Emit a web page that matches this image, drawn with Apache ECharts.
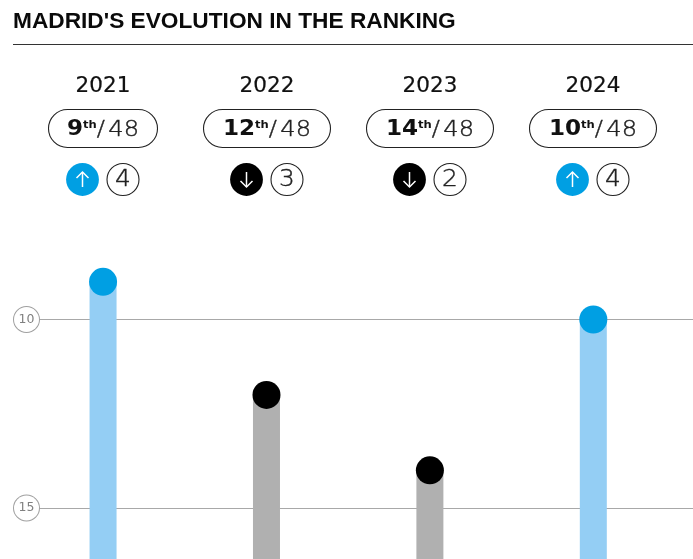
<!DOCTYPE html>
<html>
<head>
<meta charset="utf-8">
<title>Madrid ranking</title>
<script src="https://cdn.jsdelivr.net/npm/echarts@6/dist/echarts.min.js"></script>
<style>
  html, body { margin: 0; padding: 0; background: #fff; }
  #chart { width: 693px; height: 559px; }
</style>
</head>
<body>
<div id="chart"></div>
<script>
  // data
  const years = [2021, 2022, 2023, 2024];
  const ranks = [9, 12, 14, 10];
  const changes = [4, 3, 2, 4];
  const directions = ["up", "down", "down", "up"];
  const totalCities = 48;
  const titleText = "MADRID'S EVOLUTION IN THE RANKING";

  const BLUE = "#009fe3";
  const LIGHT_BLUE = "#94cef4";
  const GREY_BAR = "#b0b0b0";
  const NUM_FONT = "DejaVu Sans";
  const pillWidths = [110, 128, 128, 128];

  const chart = echarts.init(document.getElementById("chart"), null, { renderer: "canvas" });

  const points = years.map((y, i) => [y, ranks[i], directions[i]]);

  chart.setOption({
    animation: false,
    title: {
      text: titleText,
      left: 13,
      top: 10,
      padding: 0,
      textStyle: { fontFamily: "Liberation Sans", fontSize: 22.7, fontWeight: "bold", color: "#0a0a0a" }
    },
    grid: { left: 39, right: 0, top: 131, bottom: 0 },
    xAxis: {
      type: "value",
      min: 2020.608,
      max: 2024.61,
      show: false
    },
    yAxis: {
      type: "value",
      inverse: true,
      min: 5,
      max: 16.353,
      interval: 5,
      axisLine: { show: false },
      axisTick: { show: false },
      splitLine: { show: true, showMinLine: false, showMaxLine: false, lineStyle: { color: "#a8a8a8", width: 1 } },
      axisLabel: {
        showMinLabel: false,
        showMaxLabel: false,
        margin: 0,
        formatter: "{c|{value}}",
        rich: {
          c: {
            width: 25,
            height: 25,
            lineHeight: 25,
            align: "center",
            borderColor: "#a0a0a0",
            borderWidth: 1,
            borderRadius: 13,
            backgroundColor: "#fff",
            fontFamily: NUM_FONT,
            fontSize: 12.5,
            color: "#808080"
          }
        }
      }
    },
    series: [
      {
        // stems go from the rank down to the bottom of the axis
        type: "custom",
        z: 3,
        clip: true,
        encode: { x: 0, y: 1 },
        data: points,
        renderItem: (params, api) => {
          const top = api.coord([api.value(0), api.value(1)]);
          const bottom = api.coord([api.value(0), 16.353]);
          return {
            type: "rect",
            shape: { x: top[0] - 13.5, y: top[1], width: 27, height: bottom[1] - top[1] },
            style: { fill: directions[params.dataIndex] === "up" ? LIGHT_BLUE : GREY_BAR }
          };
        }
      },
      {
        type: "scatter",
        z: 4,
        symbol: "circle",
        symbolSize: 28,
        data: points.map(p => ({
          value: [p[0], p[1]],
          itemStyle: { color: p[2] === "up" ? BLUE : "#000", opacity: 1 }
        }))
      }
    ]
  });

  // header cells sit above each stem, so take x from the axis
  const headers = [];
  years.forEach((year, i) => {
    const cx = Math.round(chart.convertToPixel({ xAxisIndex: 0 }, year) + 0.1);
    const up = directions[i] === "up";
    const w = pillWidths[i];
    const ax = cx - 20;
    const ay = 180;
    headers.push(
      {
        type: "text",
        x: cx, y: 87,
        scaleX: 1.05,
        style: { text: String(year), align: "center", verticalAlign: "middle", fontFamily: NUM_FONT, fontSize: 20.5, fill: "#111", stroke: "#111", lineWidth: 0.2 }
      },
      {
        type: "rect",
        shape: { x: cx - w / 2 + 0.5, y: 109.5, width: w - 1, height: 38, r: 19 },
        style: { fill: "#fff", stroke: "#222", lineWidth: 1.1 }
      },
      {
        type: "text",
        x: cx, y: 130,
        scaleX: 1.1,
        style: {
          text: "{b|" + ranks[i] + "}{s|th}{d|/}{l|" + totalCities + "}",
          align: "center",
          verticalAlign: "middle",
          rich: {
            b: { fontFamily: NUM_FONT, fontWeight: "bold", fontSize: 21, fill: "#111" },
            s: { fontFamily: NUM_FONT, fontWeight: "bold", fontSize: 10.5, fill: "#111", padding: [0, 0, 10, 0] },
            d: { fontFamily: NUM_FONT, fontWeight: 200, fontSize: 22, fill: "#222", stroke: "#222", lineWidth: 0.4 },
            l: { fontFamily: NUM_FONT, fontWeight: 200, fontSize: 22, fill: "#222", stroke: "#222", lineWidth: 0.4, padding: [0, 0, 0, 3] }
          }
        }
      },
      { type: "circle", shape: { cx: ax - 0.5, cy: ay - 0.5, r: 16.4 }, style: { fill: up ? BLUE : "#000" } },
      {
        type: "polyline",
        shape: { points: up ? [[ax - 0.5, ay + 7], [ax - 0.5, ay - 8]] : [[ax - 0.5, ay - 8], [ax - 0.5, ay + 7]] },
        style: { stroke: "#fff", lineWidth: 1.5, fill: null }
      },
      {
        type: "polyline",
        shape: {
          points: up
            ? [[ax - 6.5, ay - 2], [ax - 0.5, ay - 8], [ax + 5.5, ay - 2]]
            : [[ax - 6.5, ay + 1], [ax - 0.5, ay + 7], [ax + 5.5, ay + 1]]
        },
        style: { stroke: "#fff", lineWidth: 1.5, fill: null }
      },
      { type: "circle", shape: { cx: cx + 20, cy: ay - 0.5, r: 16 }, style: { fill: "#fff", stroke: "#222", lineWidth: 1.1 } },
      {
        type: "text",
        x: cx + 20, y: ay + 0.5,
        scaleX: 1.08,
        style: { text: String(changes[i]), align: "center", verticalAlign: "middle", fontFamily: NUM_FONT, fontWeight: 200, fontSize: 23, fill: "#222", stroke: "#222", lineWidth: 0.4 }
      }
    );
  });

  chart.setOption({
    graphic: [
      { type: "line", shape: { x1: 13, y1: 44.5, x2: 693, y2: 44.5 }, style: { stroke: "#333", lineWidth: 1 } },
      ...headers
    ]
  });

  window.addEventListener("resize", () => {
    chart.resize();
  });
</script>
</body>
</html>
